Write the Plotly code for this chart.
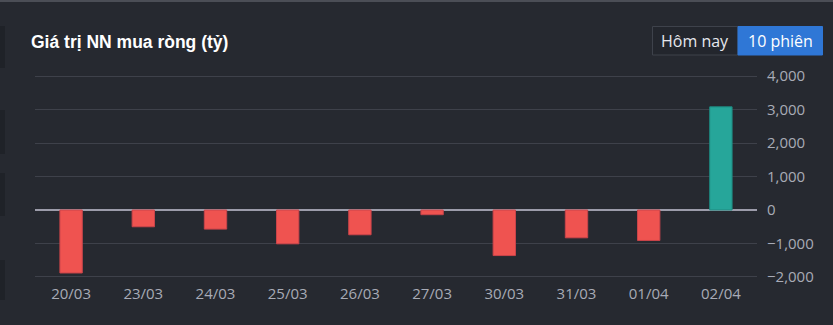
import plotly.graph_objects as go

# ---- data ----
dates = ["20/03", "23/03", "24/03", "25/03", "26/03", "27/03", "30/03", "31/03", "01/04", "02/04"]
net_buy = [-1880, -500, -570, -1010, -740, -140, -1360, -830, -910, 3080]
y_ticks = [-2000, -1000, 0, 1000, 2000, 3000, 4000]

BG = "#262930"
RED = "#ef5350"
TEAL = "#26a69a"

colors = [TEAL if v >= 0 else RED for v in net_buy]
line_colors = ["#1e8a80" if v >= 0 else "#c9444a" for v in net_buy]

fig = go.Figure(
    go.Bar(
        x=dates,
        y=net_buy,
        marker=dict(color=colors, line=dict(color=line_colors, width=1)),
        width=0.31,
        hoverinfo="x+y",
    )
)

W, H = 833, 325
L, R, T, B = 35, 76, 74, 46
pw = W - L - R
ph = H - T - B


def px(x):
    return (x - L) / pw


def py(y):
    return (H - B - y) / ph


shapes = [
    # top border line of page
    dict(type="line", xref="paper", yref="paper", x0=px(0), x1=px(W), y0=py(1), y1=py(1),
         line=dict(color="#4b4e56", width=2), layer="below"),
]
# left dark strip segments (neighbouring panel edges)
for y0, y1 in [(26, 68), (110, 154), (173, 216), (260, 300)]:
    shapes.append(dict(type="rect", xref="paper", yref="paper", x0=px(0), x1=px(5),
                       y0=py(y1), y1=py(y0), fillcolor="#1f2228", line=dict(width=0), layer="below"))
# buttons
shapes += [
    dict(type="rect", xref="paper", yref="paper", x0=px(652.5), x1=px(738), y0=py(55), y1=py(26.5),
         fillcolor="#23262d", line=dict(color="#3e424b", width=1)),
    dict(type="rect", xref="paper", yref="paper", x0=px(738), x1=px(822.5), y0=py(55), y1=py(26.5),
         fillcolor="#2f77d6", line=dict(color="#2f77d6", width=1)),
]

annotations = [
    dict(text="Hôm nay", xref="paper", yref="paper", x=px(695), y=py(40.5),
         showarrow=False, xanchor="center", yanchor="middle",
         font=dict(family="Open Sans", size=16, color="#e6e8ee")),
    dict(text="10 phiên", xref="paper", yref="paper", x=px(780.5), y=py(40.5),
         showarrow=False, xanchor="center", yanchor="middle",
         font=dict(family="Open Sans", size=16, color="#ffffff")),
]

fig.update_layout(
    width=W,
    height=H,
    margin=dict(l=L, r=R, t=T, b=B, pad=0),
    paper_bgcolor=BG,
    plot_bgcolor=BG,
    showlegend=False,
    title=dict(
        text="<b>Giá trị NN mua ròng (tỷ)</b>",
        x=31 / W, y=1 - 42 / H, xref="container", yref="container",
        xanchor="left", yanchor="middle",
        font=dict(family="Liberation Sans, Arial", size=17.5, color="#ffffff"),
    ),
    xaxis=dict(
        type="category",
        showgrid=False,
        showline=False,
        zeroline=False,
        ticks="",
        tickfont=dict(family="Open Sans", size=15, color="#a8abb6"),
        ticklabelstandoff=4,
    ),
    yaxis=dict(
        side="right",
        range=[-2060, 4060],
        tickvals=y_ticks,
        tickformat=",",
        showgrid=True,
        gridcolor="#3e414a",
        gridwidth=1,
        zeroline=True,
        zerolinecolor="#9c9caa",
        zerolinewidth=1.6,
        showline=False,
        ticks="",
        ticklabelstandoff=9,
        tickfont=dict(family="Open Sans", size=15, color="#a8abb6"),
    ),
    shapes=shapes,
    annotations=annotations,
    bargap=0.69,
)

fig.write_html("out.html")
